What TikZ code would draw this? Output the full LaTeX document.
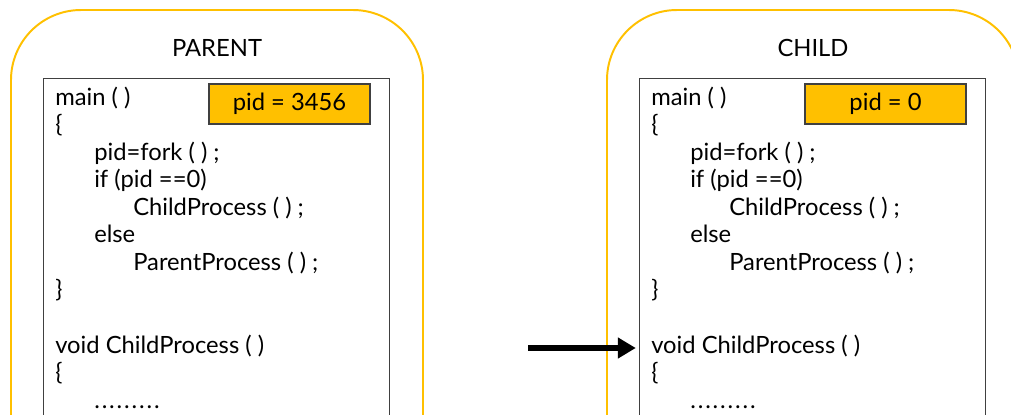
\documentclass[tikz,border=0pt]{standalone}
\usepackage{fontspec}
\setmainfont{Lato}
\usetikzlibrary{arrows.meta,positioning,calc}
\definecolor{gold}{HTML}{FFC000}
\definecolor{framegray}{HTML}{404040}
\newcommand{\codedots}{.\kern0.047cm.\kern0.047cm.\kern0.047cm.\kern0.047cm.\kern0.047cm.\kern0.047cm.\kern0.047cm.\kern0.047cm.}
\tikzset{
  procbox/.style={draw=gold,line width=1.4pt,rounded corners=1.75cm},
  codeframe/.style={draw=framegray,line width=1pt,anchor=north west,minimum width=8.65cm,minimum height=10cm,inner sep=0pt},
  pidbox/.style={draw=framegray,fill=gold,line width=1pt,minimum width=4.025cm,minimum height=1cm,inner sep=0pt,font=\fontsize{16.9}{20}\selectfont},
  proctitle/.style={font=\fontsize{16.9}{20}\selectfont},
  codeline/.style={anchor=base west,inner sep=0pt,font=\fontsize{16.9}{20}\selectfont},
  pointer/.style={line width=0.13cm,shorten >=0.08cm,-{Triangle[length=0.45cm,width=0.5cm]}}
}
\begin{document}
\begin{tikzpicture}
% ==========================================
\clip (0,0) rectangle (25.275,-10.35);
%
\foreach \side/\dx/\name/\pid in {p/0/PARENT/3456, c/14.9/CHILD/0}{
\begin{scope}[xshift=\dx cm]
\draw [procbox] (0.275,-11) -- (0.275,-0.25) -- (10.575,-0.25) -- (10.575,-11);
\node [proctitle] (\side title) at (5.425,-1.2) {\name};
\node [codeframe] (\side frame) at (1.075,-1.95) {};
\node [pidbox] (\side pid) at (7.2375,-2.6) {pid = \pid};
\foreach \ln/\ind/\txt in {0/0/main ( ), 1/0/\{, 2/1/pid=fork ( ) ;, 3/1/if (pid ==0),
  4/2/ChildProcess ( ) ;, 5/1/else, 6/2/ParentProcess ( ) ;, 7/0/\},
  9/0/void ChildProcess ( ), 10/0/\{, 11/1/\codedots}{
  \node [codeline] (\side l\ln) at ({1.375+0.975*\ind},{-2.625-0.689*\ln}) {\txt};
}
\end{scope}
}
%
\coordinate (astart) at (13.2,-8.7);
\draw [pointer] (astart) -- (astart -| cframe.west);%Arrow.
% =============================================
\end{tikzpicture}
\end{document}
